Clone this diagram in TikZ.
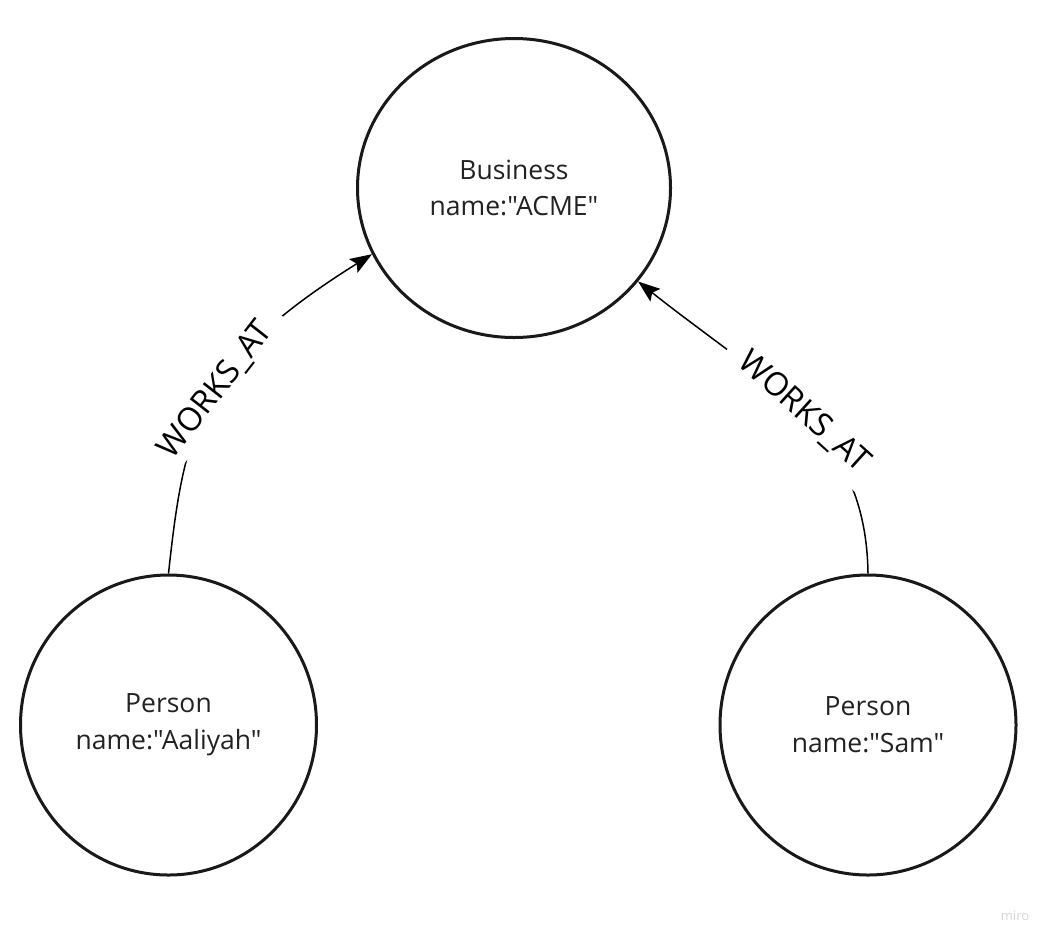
\documentclass[tikz,border=0pt]{standalone}
\usepackage{fontspec}
\setmainfont{Open Sans}[Ligatures=TeXOff]
\usetikzlibrary{shapes.geometric,arrows.meta}
\definecolor{txt}{HTML}{222222}
\definecolor{wm}{HTML}{D4D4D4}
\begin{document}
\begin{tikzpicture}[x=1pt,y=-1pt,
  entity/.style={ellipse, draw=black!90, line width=3pt, inner sep=0pt, align=center, text=txt,
    font=\fontsize{26.5}{36.6}\selectfont},
  rel/.style={draw=black, line width=1.5pt, -{Stealth[length=22pt,width=16pt,inset=4pt]}},
  rellabel/.style={fill=white, inner xsep=17pt, inner ysep=6pt, text=black,
    font=\fontsize{32.5}{38}\selectfont}]
\useasboundingbox[fill=white] (0,0) rectangle (1056,946);
\node[entity, minimum width=313pt, minimum height=299pt] (business) at (514,188) {Business\\name:"ACME"};
\node[entity, minimum width=296pt, minimum height=300pt] (aaliyah) at (168.5,725) {Person\\name:"Aaliyah"};
\node[entity, minimum width=296pt, minimum height=300pt] (sam) at (868,725) {Person\\name:"Sam"};
\draw[rel] (aaliyah.north) .. controls (184.5,425) and (199.6,361.8) .. (business.205.8);
\draw[rel] (sam.north) .. controls (866,430) and (770,386) .. (business.323.3);
\node[rellabel, rotate=52] (l1) at (216,390) {WORKS\_AT};
\node[rellabel, rotate=-42, inner ysep=11pt] (l2) at (804,412) {WORKS\_AT};
\node[text=wm, font=\fontsize{13}{15}\selectfont] (miro) at (1015,916) {miro};
\end{tikzpicture}
\end{document}
